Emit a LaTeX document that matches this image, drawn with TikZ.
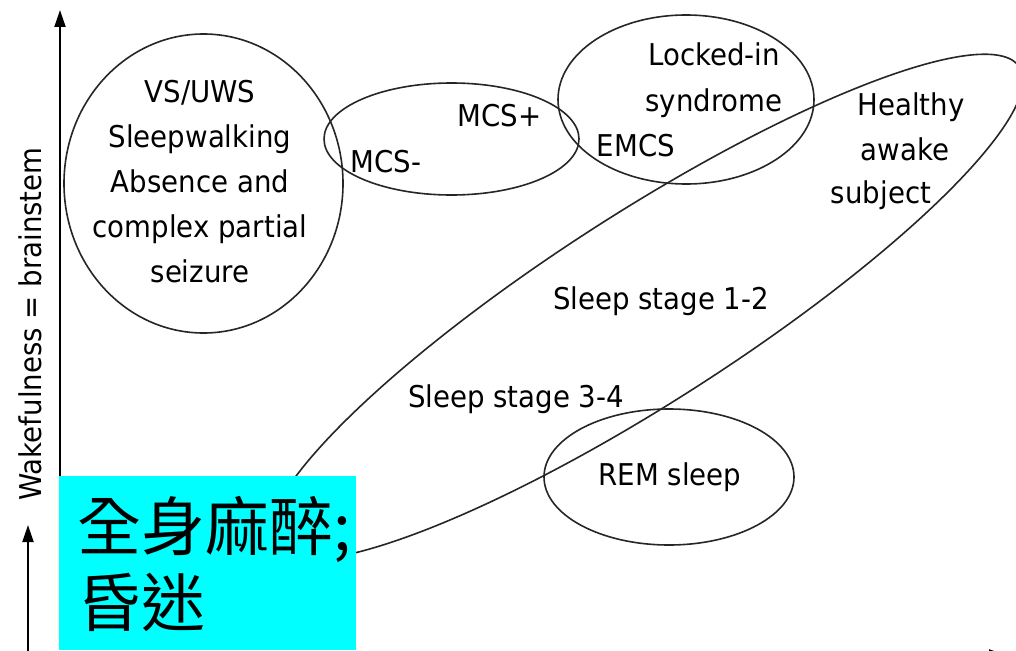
\documentclass[tikz,border=0pt]{standalone}
\usepackage{fontspec}
\setmainfont{DejaVu Sans}[FakeStretch=0.92]
\newfontfamily\cjk{Noto Sans CJK TC}
\usetikzlibrary{shapes.geometric,arrows.meta}
\definecolor{boxcyan}{HTML}{00FFFF}
\begin{document}
\begin{tikzpicture}[x=1pt,y=-1pt,
  oval/.style={ellipse, draw=black!85, line width=1.6pt, inner sep=0pt, outer sep=0pt},
  lbl/.style={font=\fontsize{30}{45}\selectfont, text=black, align=center, inner sep=0pt, anchor=base},
  axis/.style={draw=black, line width=2pt, -{Triangle[width=11pt,length=17pt]}},
  cjkbox/.style={fill=boxcyan, draw=none, inner sep=0pt, minimum width=297pt, minimum height=174pt, anchor=north west},
  cjktxt/.style={font=\cjk\fontsize{64}{76}\selectfont, text=black, inner sep=0pt, anchor=base west}]
\useasboundingbox (0,0) rectangle (1016,650);
\fill[white] (0,0) rectangle (1016,650);

% axes
\coordinate (ybot) at (60,480);
\coordinate (ytop) at (60,10);
\draw[axis] (ybot) -- (ytop);
\coordinate (sbot) at (28,655);
\coordinate (stop) at (28,525);
\draw[axis] (sbot) -- (stop);
\coordinate (xleft) at (356,655);
\coordinate (xright) at (1006,655);
\draw[axis] (xleft) -- (xright);

\node[font=\fontsize{30}{36}\selectfont, rotate=90, inner sep=0pt] (ylabel) at (30,324) {Wakefulness = brainstem};

% ellipses
\node[oval, minimum width=279pt, minimum height=299pt] (vs) at (203.5,183.5) {};
\node[oval, minimum width=255pt, minimum height=112pt] (mcs) at (451.5,139) {};
\node[oval, minimum width=256pt, minimum height=169pt] (lis) at (686,99.5) {};
\node[oval, minimum width=250pt, minimum height=136pt] (rem) at (669,477) {};
\node[oval, minimum width=888pt, minimum height=189pt, rotate=32.7] (sleep) at (646,307) {};

% labels
\node[lbl] (vstxt) at (200,282) {VS/UWS\\Sleepwalking\\Absence and\\complex partial\\seizure};
\node[lbl] (mcsp) at (499.5,127) {MCS+};
\node[lbl] (mcsm) at (386,172) {MCS-};
\node[lbl] (litxt) at (714,111) {Locked-in\\syndrome};
\node[lbl] (emcs) at (636,156) {EMCS};
\node[lbl] (healthy) at (911,115) {Healthy};
\node[lbl] (awake) at (905,160) {awake};
\node[lbl] (subject) at (881,203) {subject};
\node[lbl] (s12) at (661,309) {Sleep stage 1-2};
\node[lbl] (s34) at (516,407) {Sleep stage 3-4};
\node[lbl] (remtxt) at (670,485) {REM sleep};

% cyan box
\node[cjkbox] (box) at (59,476) {};
\node[cjktxt] (cjk1) at (77,550) {全身麻醉;};
\node[cjktxt] (cjk2) at (77,626) {昏迷};
\end{tikzpicture}
\end{document}
